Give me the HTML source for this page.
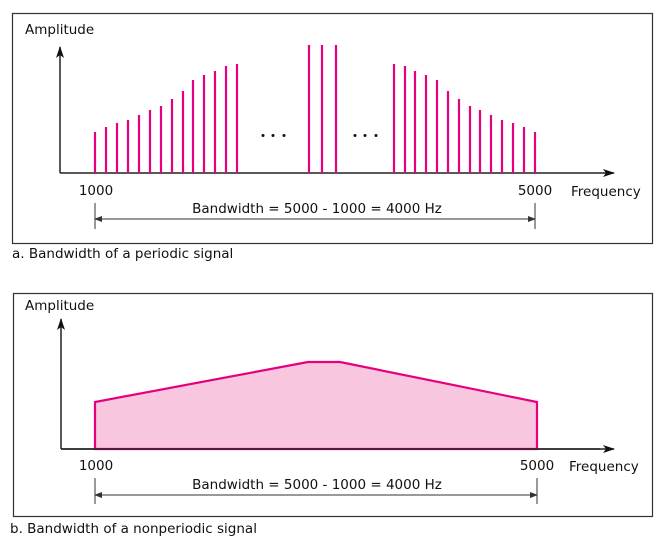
<!DOCTYPE html>
<html><head><meta charset="utf-8"><style>
body{margin:0;background:#fff;}
svg{display:block;font-family:"DejaVu Sans","Liberation Sans",sans-serif;}
</style></head><body>
<svg width="672" height="550" viewBox="0 0 672 550">
<defs>
<marker id="ah" markerWidth="12" markerHeight="8" refX="11" refY="4" orient="auto" markerUnits="userSpaceOnUse"><path d="M0,0 L12,4 L0,8 L3,4z" fill="#111"/></marker>
<marker id="sa" markerWidth="8" markerHeight="6" refX="7" refY="3" orient="auto" markerUnits="userSpaceOnUse"><path d="M0,0 L8,3 L0,6z" fill="#333"/></marker>
</defs>
<rect x="12.5" y="13.5" width="640" height="230" fill="none" stroke="#333" stroke-width="1.2"/>
<text x="25" y="34" font-size="13.5" fill="#111">Amplitude</text>
<line x1="60" y1="173" x2="60" y2="47" stroke="#222" stroke-width="1.5" marker-end="url(#ah)"/>
<line x1="60" y1="173" x2="614" y2="173" stroke="#222" stroke-width="1.5" marker-end="url(#ah)"/>
<g stroke="#e6007e" stroke-width="2.2">
<line x1="95" y1="173" x2="95" y2="132"/><line x1="106" y1="173" x2="106" y2="127"/><line x1="117" y1="173" x2="117" y2="123"/><line x1="128" y1="173" x2="128" y2="120"/><line x1="139" y1="173" x2="139" y2="115"/><line x1="150" y1="173" x2="150" y2="110"/><line x1="161" y1="173" x2="161" y2="106"/><line x1="172" y1="173" x2="172" y2="99"/><line x1="183" y1="173" x2="183" y2="91"/><line x1="193" y1="173" x2="193" y2="80"/><line x1="204" y1="173" x2="204" y2="75"/><line x1="215" y1="173" x2="215" y2="71"/><line x1="226" y1="173" x2="226" y2="66"/><line x1="237" y1="173" x2="237" y2="64"/>
<line x1="309" y1="173" x2="309" y2="45"/><line x1="322" y1="173" x2="322" y2="45"/><line x1="336" y1="173" x2="336" y2="45"/>
<line x1="394" y1="173" x2="394" y2="64"/><line x1="405" y1="173" x2="405" y2="66"/><line x1="415" y1="173" x2="415" y2="71"/><line x1="426" y1="173" x2="426" y2="75"/><line x1="437" y1="173" x2="437" y2="80"/><line x1="448" y1="173" x2="448" y2="91"/><line x1="459" y1="173" x2="459" y2="99"/><line x1="470" y1="173" x2="470" y2="106"/><line x1="480" y1="173" x2="480" y2="110"/><line x1="491" y1="173" x2="491" y2="115"/><line x1="502" y1="173" x2="502" y2="120"/><line x1="513" y1="173" x2="513" y2="123"/><line x1="524" y1="173" x2="524" y2="127"/><line x1="535" y1="173" x2="535" y2="132"/>
</g>
<g fill="#111"><circle cx="263" cy="135.5" r="1.5"/><circle cx="273" cy="135.5" r="1.5"/><circle cx="284" cy="135.5" r="1.5"/><circle cx="355" cy="135.5" r="1.5"/><circle cx="365" cy="135.5" r="1.5"/><circle cx="376" cy="135.5" r="1.5"/></g>
<text x="96" y="195" font-size="13.5" text-anchor="middle" fill="#111">1000</text>
<text x="535" y="195" font-size="13.5" text-anchor="middle" fill="#111">5000</text>
<text x="571" y="196" font-size="13.5" fill="#111">Frequency</text>
<line x1="95" y1="203" x2="95" y2="229" stroke="#333"/><line x1="535" y1="203" x2="535" y2="229" stroke="#333"/>
<line x1="95" y1="219" x2="535" y2="219" stroke="#333" marker-end="url(#sa)"/>
<line x1="535" y1="219" x2="95" y2="219" stroke="#333" marker-end="url(#sa)"/>
<text x="317" y="213" font-size="13.5" text-anchor="middle" fill="#111">Bandwidth = 5000 - 1000 = 4000 Hz</text>
<text x="12" y="258" font-size="13.5" fill="#111">a. Bandwidth of a periodic signal</text>

<rect x="13.5" y="293.5" width="639" height="223" fill="none" stroke="#333" stroke-width="1.2"/>
<text x="25" y="310" font-size="13.5" fill="#111">Amplitude</text>
<line x1="61" y1="449" x2="61" y2="319" stroke="#222" stroke-width="1.5" marker-end="url(#ah)"/>
<line x1="61" y1="449" x2="614" y2="449" stroke="#222" stroke-width="1.5" marker-end="url(#ah)"/>
<polygon points="95,449 95,402 308,362 340,362 537,402 537,449" fill="#f9c6e0" stroke="#e6007e" stroke-width="2.2"/>
<line x1="61" y1="449" x2="600" y2="449" stroke="#222" stroke-width="1.5"/>
<text x="96" y="470" font-size="13.5" text-anchor="middle" fill="#111">1000</text>
<text x="537" y="470" font-size="13.5" text-anchor="middle" fill="#111">5000</text>
<text x="569" y="471" font-size="13.5" fill="#111">Frequency</text>
<line x1="95" y1="478" x2="95" y2="504" stroke="#333"/><line x1="537" y1="478" x2="537" y2="504" stroke="#333"/>
<line x1="95" y1="495" x2="537" y2="495" stroke="#333" marker-end="url(#sa)"/>
<line x1="537" y1="495" x2="95" y2="495" stroke="#333" marker-end="url(#sa)"/>
<text x="317" y="489" font-size="13.5" text-anchor="middle" fill="#111">Bandwidth = 5000 - 1000 = 4000 Hz</text>
<text x="10" y="533" font-size="13.5" fill="#111">b. Bandwidth of a nonperiodic signal</text>
</svg>
</body></html>
